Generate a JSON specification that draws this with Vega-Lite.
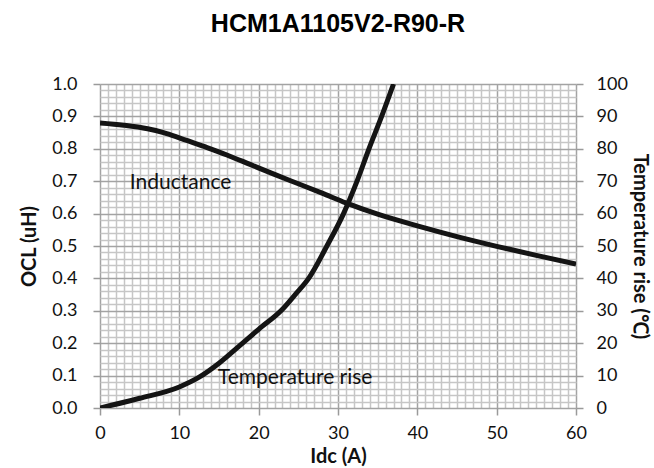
{
  "$schema": "https://vega.github.io/schema/vega-lite/v6.json",
  "width": 476,
  "height": 324,
  "autosize": {"type": "none"},
  "padding": {"left": 100, "top": 84, "right": 78, "bottom": 60},
  "background": "white",
  "title": {
    "text": "HCM1A1105V2-R90-R",
    "font": "Liberation Sans",
    "fontSize": 25,
    "fontWeight": "bold",
    "color": "#000000",
    "anchor": "middle",
    "baseline": "alphabetic",
    "offset": 18
  },
  "config": {
    "view": {"stroke": null},
    "axis": {
      "labelFont": "Lato",
      "labelFontSize": 18,
      "labelColor": "#111111",
      "titleFont": "Lato",
      "titleFontSize": 20,
      "titleFontWeight": "bold",
      "titleColor": "#111111",
      "domain": false,
      "tickColor": "#9a9a9a",
      "tickWidth": 1.5,
      "tickSize": 7,
      "labelOverlap": false,
      "labelBound": false,
      "labelFlush": false
    }
  },
  "encoding": {
    "x": {
      "field": "idc",
      "type": "quantitative",
      "scale": {"domain": [0, 60], "nice": false, "zero": false},
      "axis": {
        "title": "Idc (A)",
        "values": [0,1,2,3,4,5,6,7,8,9,10,11,12,13,14,15,16,17,18,19,20,21,22,23,24,25,26,27,28,29,30,31,32,33,34,35,36,37,38,39,40,41,42,43,44,45,46,47,48,49,50,51,52,53,54,55,56,57,58,59,60],
        "labelExpr": "datum.value % 10 === 0 ? datum.label : ''",
        "labelPadding": 9,
        "titlePadding": 4,
        "grid": true,
        "gridColor": {"condition": {"test": "datum.value % 10 === 0", "value": "#a3a3a3"}, "value": "#c6c6c6"},
        "gridWidth": 1.5,
        "tickOpacity": {"condition": {"test": "datum.value % 10 === 0", "value": 1}, "value": 0}
      }
    }
  },
  "layer": [
    {
      "encoding": {
        "y": {
          "field": "ocl",
          "type": "quantitative",
          "scale": {"domain": [0, 1], "nice": false},
          "axis": {
            "title": "OCL (uH)",
            "orient": "left",
            "values": [0,0.02,0.04,0.06,0.08,0.1,0.12,0.14,0.16,0.18,0.2,0.22,0.24,0.26,0.28,0.3,0.32,0.34,0.36,0.38,0.4,0.42,0.44,0.46,0.48,0.5,0.52,0.54,0.56,0.58,0.6,0.62,0.64,0.66,0.68,0.7,0.72,0.74,0.76,0.78,0.8,0.82,0.84,0.86,0.88,0.9,0.92,0.94,0.96,0.98,1.0],
            "labelExpr": "round(datum.value*50) % 5 === 0 ? format(datum.value, '.1f') : ''",
            "labelPadding": 16,
            "titlePadding": 12,
            "grid": true,
            "gridColor": {"condition": {"test": "round(datum.value*50) % 5 === 0", "value": "#a3a3a3"}, "value": "#c6c6c6"},
            "gridWidth": 1.5,
            "tickOpacity": {"condition": {"test": "round(datum.value*50) % 5 === 0", "value": 1}, "value": 0}
          }
        }
      },
      "layer": [
        {
          "data": {
            "values": [
              {"idc": 0, "ocl": 0.88},
              {"idc": 3, "ocl": 0.873},
              {"idc": 6, "ocl": 0.862},
              {"idc": 8, "ocl": 0.85},
              {"idc": 10, "ocl": 0.834},
              {"idc": 13, "ocl": 0.808},
              {"idc": 16, "ocl": 0.781},
              {"idc": 19, "ocl": 0.751},
              {"idc": 22, "ocl": 0.721},
              {"idc": 25, "ocl": 0.692},
              {"idc": 28, "ocl": 0.663},
              {"idc": 31, "ocl": 0.633},
              {"idc": 35, "ocl": 0.598},
              {"idc": 40, "ocl": 0.562},
              {"idc": 45, "ocl": 0.529},
              {"idc": 50, "ocl": 0.499},
              {"idc": 55, "ocl": 0.471},
              {"idc": 60, "ocl": 0.444}
            ]
          },
          "mark": {"type": "line", "color": "#141414", "strokeWidth": 5, "interpolate": "monotone", "clip": true}
        },
        {
          "data": {"values": [{"idc": 10.15, "ocl": 0.694, "label": "Inductance"}]},
          "mark": {"type": "text", "font": "Lato", "fontSize": 21, "color": "#111111", "align": "center", "baseline": "middle"},
          "encoding": {"text": {"field": "label"}}
        }
      ]
    },
    {
      "encoding": {
        "y": {
          "field": "temp",
          "type": "quantitative",
          "scale": {"domain": [0, 100], "nice": false},
          "axis": {
            "title": "Temperature rise (℃)",
            "orient": "right",
            "values": [0,10,20,30,40,50,60,70,80,90,100],
            "grid": false,
            "labelPadding": 13,
            "titlePadding": 2
          }
        }
      },
      "layer": [
        {
          "data": {
            "values": [
              {"idc": 0, "temp": 0},
              {"idc": 5, "temp": 3},
              {"idc": 10, "temp": 6.5},
              {"idc": 12.5, "temp": 9.5},
              {"idc": 15, "temp": 13.8},
              {"idc": 17.5, "temp": 19},
              {"idc": 20, "temp": 24.3},
              {"idc": 23, "temp": 30.5},
              {"idc": 24.6, "temp": 35},
              {"idc": 26.3, "temp": 40},
              {"idc": 28.6, "temp": 50},
              {"idc": 30.7, "temp": 60},
              {"idc": 32.4, "temp": 70},
              {"idc": 33.9, "temp": 80},
              {"idc": 35.5, "temp": 90},
              {"idc": 37, "temp": 100}
            ]
          },
          "mark": {"type": "line", "color": "#141414", "strokeWidth": 5, "interpolate": "monotone", "clip": true}
        },
        {
          "data": {"values": [{"idc": 24.6, "temp": 9.3, "label": "Temperature rise"}]},
          "mark": {"type": "text", "font": "Lato", "fontSize": 21, "color": "#111111", "align": "center", "baseline": "middle"},
          "encoding": {"text": {"field": "label"}}
        }
      ]
    }
  ],
  "resolve": {"scale": {"y": "independent"}, "axis": {"y": "independent"}}
}
